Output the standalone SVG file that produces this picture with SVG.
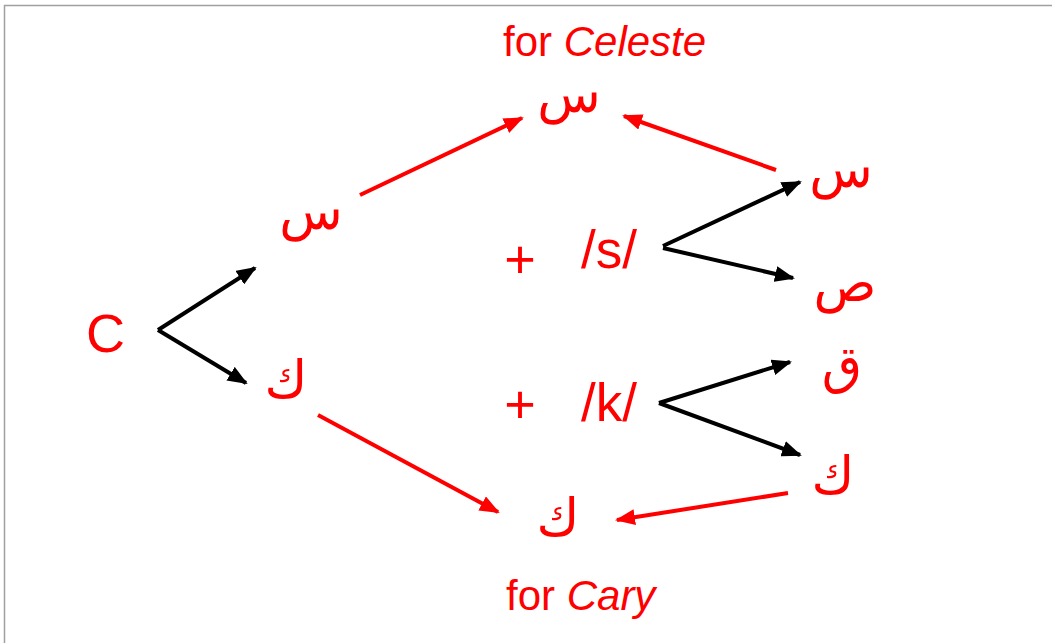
<svg xmlns="http://www.w3.org/2000/svg" width="1052" height="643" viewBox="0 0 1052 643">
<style>
.t{font-family:"Liberation Sans",Arial,sans-serif;fill:#ff0000}
.a{font-family:"DejaVu Sans",sans-serif;fill:#ff0000;font-size:52px}
.k{stroke:#000;stroke-width:4;fill:none}
.r{stroke:#ff0000;stroke-width:4;fill:none}
</style>
<defs>
<marker id="mk" markerUnits="userSpaceOnUse" markerWidth="20" markerHeight="16" refX="18" refY="8" orient="auto"><path d="M0,0 L20,8 L0,16 Z" fill="#000"/></marker>
<marker id="mr" markerUnits="userSpaceOnUse" markerWidth="20" markerHeight="16" refX="18" refY="8" orient="auto"><path d="M0,0 L20,8 L0,16 Z" fill="#ff0000"/></marker>
</defs>
<rect width="1052" height="643" fill="#fff"/>
<path d="M4.5,643 L4.5,5.5 L1052,5.5" stroke="#a0a0a0" stroke-width="1.5" fill="none"/>
<g id="connectors">
<path class="k" d="M158,330 L255,268" marker-end="url(#mk)"/>
<path class="k" d="M158,330 L246,383" marker-end="url(#mk)"/>
<path class="k" d="M663,246 L800,182" marker-end="url(#mk)"/>
<path class="k" d="M663,248 L793,278" marker-end="url(#mk)"/>
<path class="k" d="M659,403 L790,362" marker-end="url(#mk)"/>
<path class="k" d="M659,403 L800,455" marker-end="url(#mk)"/>
<path class="r" d="M360,195 L522,118" marker-end="url(#mr)"/>
<path class="r" d="M776,170 L624,116" marker-end="url(#mr)"/>
<path class="r" d="M318,415 L498,512" marker-end="url(#mr)"/>
<path class="r" d="M788,493 L617,520" marker-end="url(#mr)"/>
</g>
<g id="label-celeste"><text class="t" x="503" y="56" font-size="42">for <tspan font-style="italic">Celeste</tspan></text></g>
<g id="label-cary"><text class="t" x="506" y="610" font-size="42">for <tspan font-style="italic">Cary</tspan></text></g>
<g id="node-C"><text class="t" x="86" y="352" font-size="54">C</text></g>
<g id="node-seen-left"><text class="a" x="311" y="229" text-anchor="middle">س</text></g>
<g id="node-kaf-left"><text class="a" x="286" y="398" text-anchor="middle">ك</text></g>
<g id="node-seen-top"><text class="a" x="569" y="112" text-anchor="middle">س</text></g>
<g id="node-kaf-bottom"><text class="a" x="558" y="536" text-anchor="middle">ك</text></g>
<g id="node-plus-s"><text class="t" x="520" y="278" font-size="54" text-anchor="middle">+</text></g>
<g id="node-s"><text class="t" x="581" y="268" font-size="53">/s/</text></g>
<g id="node-plus-k"><text class="t" x="520" y="423" font-size="54" text-anchor="middle">+</text></g>
<g id="node-k"><text class="t" x="581" y="421" font-size="53">/k/</text></g>
<g id="node-seen-right"><text class="a" x="841" y="187" text-anchor="middle">س</text></g>
<g id="node-sad"><text class="a" x="845" y="301" text-anchor="middle">ص</text></g>
<g id="node-qaf"><text class="a" x="842" y="383" text-anchor="middle">ق</text></g>
<g id="node-kaf-right"><text class="a" x="833" y="494" text-anchor="middle">ك</text></g>
</svg>
